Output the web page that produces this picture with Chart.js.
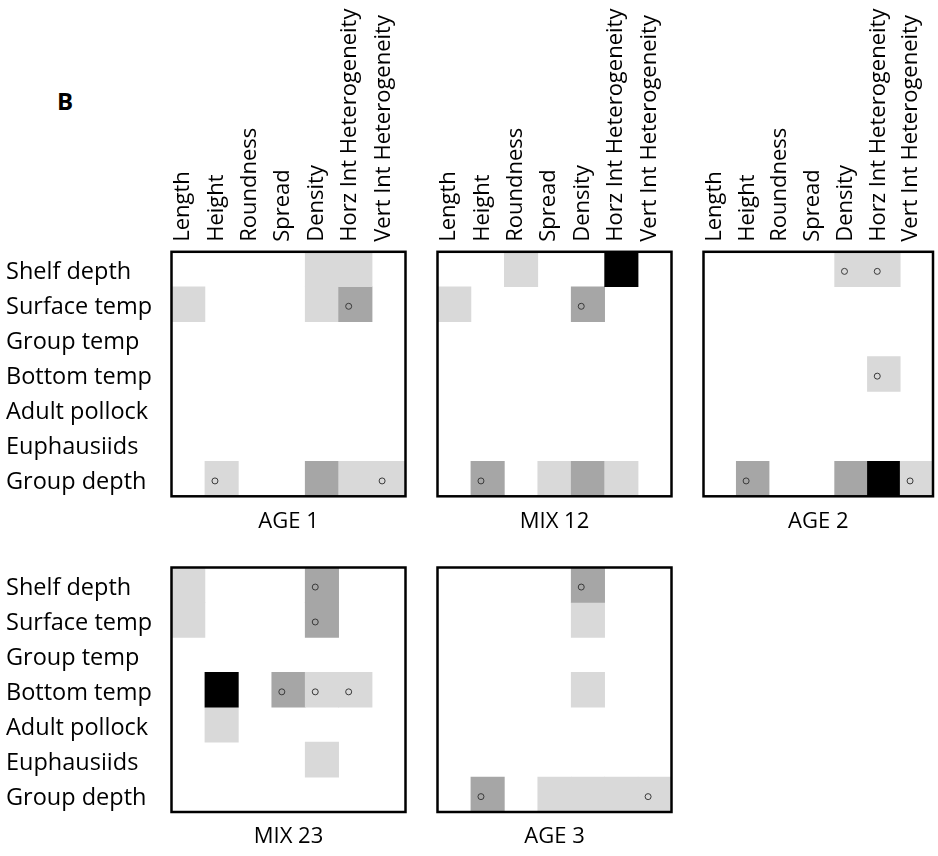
<!DOCTYPE html>
<html>
<head>
<meta charset="utf-8">
<script src="https://cdn.jsdelivr.net/npm/chart.js@4.4.1/dist/chart.umd.min.js"></script>
<style>
html, body { margin: 0; padding: 0; background: #ffffff; }
#wrap { position: relative; width: 938px; height: 856px; overflow: hidden; background: #ffffff; }
#wrap canvas { position: absolute; left: 0; top: 0; }
#panelLetter { position: absolute; left: 57px; top: 84px; font: bold 24px 'Open Sans', sans-serif; color: #000; }
</style>
</head>
<body>
<div id="wrap">
  <div id="panelLetter">B</div>
  <canvas id="c0" width="938" height="856"></canvas>
  <canvas id="c1" width="938" height="856"></canvas>
  <canvas id="c2" width="938" height="856"></canvas>
  <canvas id="c3" width="938" height="856"></canvas>
  <canvas id="c4" width="938" height="856"></canvas>
</div>
<script>
// ---- data ----
const COLUMNS = ['Length', 'Height', 'Roundness', 'Spread', 'Density', 'Horz Int Heterogeneity', 'Vert Int Heterogeneity'];
const ROWS = ['Shelf depth', 'Surface temp', 'Group temp', 'Bottom temp', 'Adult pollock', 'Euphausiids', 'Group depth'];
const PANEL_NAMES = ['AGE 1', 'MIX 12', 'AGE 2', 'MIX 23', 'AGE 3'];

// shade level per cell: 0 none, 1 light, 2 medium, 3 strong (rows x columns)
const AGE1 = [
  [0, 0, 0, 0, 1, 1, 0],
  [1, 0, 0, 0, 1, 2, 0],
  [0, 0, 0, 0, 0, 0, 0],
  [0, 0, 0, 0, 0, 0, 0],
  [0, 0, 0, 0, 0, 0, 0],
  [0, 0, 0, 0, 0, 0, 0],
  [0, 1, 0, 0, 2, 1, 1]
];
const MIX12 = [
  [0, 0, 1, 0, 0, 3, 0],
  [1, 0, 0, 0, 2, 0, 0],
  [0, 0, 0, 0, 0, 0, 0],
  [0, 0, 0, 0, 0, 0, 0],
  [0, 0, 0, 0, 0, 0, 0],
  [0, 0, 0, 0, 0, 0, 0],
  [0, 2, 0, 1, 2, 1, 0]
];
const AGE2 = [
  [0, 0, 0, 0, 1, 1, 0],
  [0, 0, 0, 0, 0, 0, 0],
  [0, 0, 0, 0, 0, 0, 0],
  [0, 0, 0, 0, 0, 1, 0],
  [0, 0, 0, 0, 0, 0, 0],
  [0, 0, 0, 0, 0, 0, 0],
  [0, 2, 0, 0, 2, 3, 1]
];
const MIX23 = [
  [1, 0, 0, 0, 2, 0, 0],
  [1, 0, 0, 0, 2, 0, 0],
  [0, 0, 0, 0, 0, 0, 0],
  [0, 3, 0, 2, 1, 1, 0],
  [0, 1, 0, 0, 0, 0, 0],
  [0, 0, 0, 0, 1, 0, 0],
  [0, 0, 0, 0, 0, 0, 0]
];
const AGE3 = [
  [0, 0, 0, 0, 2, 0, 0],
  [0, 0, 0, 0, 1, 0, 0],
  [0, 0, 0, 0, 0, 0, 0],
  [0, 0, 0, 0, 1, 0, 0],
  [0, 0, 0, 0, 0, 0, 0],
  [0, 0, 0, 0, 0, 0, 0],
  [0, 2, 0, 1, 1, 1, 1]
];

// cells carrying a small circle marker: [row, column]
const AGE1_MARKS = [[1, 5], [6, 1], [6, 6]];
const MIX12_MARKS = [[1, 4], [6, 1]];
const AGE2_MARKS = [[0, 4], [0, 5], [3, 5], [6, 1], [6, 6]];
const MIX23_MARKS = [[0, 4], [1, 4], [3, 3], [3, 4], [3, 5]];
const AGE3_MARKS = [[0, 4], [6, 1], [6, 6]];

const PANEL_LEVELS = [AGE1, MIX12, AGE2, MIX23, AGE3];
const PANEL_MARKS = [AGE1_MARKS, MIX12_MARKS, AGE2_MARKS, MIX23_MARKS, AGE3_MARKS];

// ---- styling / layout ----
const SHADES = ['rgba(0,0,0,0)', '#d9d9d9', '#a6a6a6', '#000000'];
const MARK_DX = -0.2;
const MARK_DY = 0.06;
const FONT_FAMILY = "'Open Sans', 'Noto Sans', sans-serif";
const W = 938, H = 856;
const BOX_W = 234, BOX_H = 244.5;
const TITLE_SIZE = 22, TITLE_PAD = 12;
const TITLE_H = TITLE_SIZE * 1.2 + TITLE_PAD;
const ROW_LABEL_X = 6;
const PANELS = [
  { left: 171.5, top: 251.8, cols: true, rows: true },
  { left: 437.5, top: 251.8, cols: true, rows: false },
  { left: 703.5, top: 251.8, cols: true, rows: false },
  { left: 171.5, top: 567.5, cols: false, rows: true },
  { left: 437.5, top: 567.5, cols: false, rows: false }
];

Chart.defaults.font.family = FONT_FAMILY;
Chart.defaults.color = '#000';

const framePlugin = {
  id: 'frame',
  afterDatasetsDraw(chart) {
    const a = chart.chartArea, ctx = chart.ctx;
    ctx.save();
    ctx.strokeStyle = '#000';
    ctx.lineWidth = 2.5;
    ctx.strokeRect(a.left, a.top, a.right - a.left, a.bottom - a.top);
    ctx.restore();
  }
};

function buildDatasets(levels, marks) {
  const ds = levels.map((row, r) => ({
    type: 'bar',
    label: ROWS[r],
    order: 1,
    data: row.map(v => (v > 0 ? [r, r + 1] : null)),
    backgroundColor: row.map(v => SHADES[v]),
    borderWidth: 0,
    grouped: false,
    barPercentage: 1,
    categoryPercentage: 1,
    xAxisID: 'x',
    yAxisID: 'y'
  }));
  ds.push({
    type: 'scatter',
    label: 'marks',
    order: 0,
    data: marks.map(([r, c]) => ({ x: c + MARK_DX, y: r + 0.5 + MARK_DY })),
    xAxisID: 'xn',
    yAxisID: 'y',
    pointStyle: 'circle',
    pointRadius: 3,
    pointBorderWidth: 1,
    pointBorderColor: '#3a3a3a',
    pointBackgroundColor: 'rgba(0,0,0,0)'
  });
  return ds;
}

PANELS.forEach((p, i) => {
  const xAxisH = p.cols ? p.top : 0;
  const yAxisW = p.rows ? p.left - ROW_LABEL_X : 0;
  const padding = {
    top: p.top - xAxisH,
    left: p.left - yAxisW,
    right: W - (p.left + BOX_W),
    bottom: H - (p.top + BOX_H) - TITLE_H
  };
  new Chart(document.getElementById('c' + i), {
    type: 'bar',
    data: { labels: COLUMNS, datasets: buildDatasets(PANEL_LEVELS[i], PANEL_MARKS[i]) },
    options: {
      responsive: false,
      animation: false,
      events: [],
      layout: { padding },
      plugins: {
        legend: { display: false },
        tooltip: { enabled: false },
        title: {
          display: true,
          text: PANEL_NAMES[i],
          position: 'bottom',
          fullSize: false,
          align: 'center',
          color: '#000',
          font: { family: FONT_FAMILY, size: TITLE_SIZE, weight: 'normal', lineHeight: 1.2 },
          padding: { top: TITLE_PAD, bottom: 0 }
        }
      },
      scales: {
        x: {
          type: 'category',
          position: 'top',
          offset: true,
          display: p.cols,
          grid: { display: false, drawTicks: false },
          border: { display: false },
          ticks: {
            autoSkip: false, minRotation: 90, maxRotation: 90, padding: 10, labelOffset: 21,
            color: '#000', font: { family: FONT_FAMILY, size: 22 }
          },
          afterFit(s) { s.height = xAxisH; }
        },
        xn: { type: 'linear', min: -0.5, max: 6.5, offset: false, display: false },
        y: { type: 'linear', min: 0, max: 7, reverse: true, offset: false, display: false },
        yr: {
          type: 'category',
          labels: ROWS,
          position: 'left',
          offset: true,
          display: p.rows,
          grid: { display: false, drawTicks: false },
          border: { display: false },
          ticks: {
            crossAlign: 'far', padding: 0, labelOffset: 3.5,
            color: '#000', font: { family: FONT_FAMILY, size: 23.5 }
          },
          afterFit(s) { s.width = yAxisW; }
        }
      }
    },
    plugins: [framePlugin]
  });
});
</script>
</body>
</html>
